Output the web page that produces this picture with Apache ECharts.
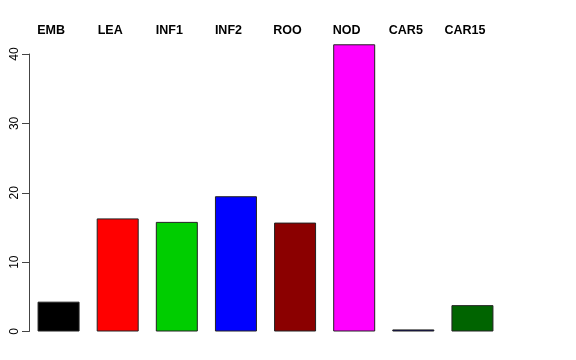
<!DOCTYPE html>
<html><head><meta charset="utf-8">
<script src="https://cdn.jsdelivr.net/npm/echarts@6/dist/echarts.min.js"></script>
<style>html,body{margin:0;padding:0;background:#fff}#c{width:576px;height:360px}</style>
</head><body><div id="c"></div>
<script>
const categories = ["EMB","LEA","INF1","INF2","ROO","NOD","CAR5","CAR15"];
const values = [4.3, 16.3, 15.8, 19.5, 15.7, 41.4, 0.3, 3.8];
const colors = ["#000000","#FF0000","#00CD00","#0000FF","#8B0000","#FF00FF","#000080","#006400"];
const yTicks = [0, 10, 20, 30, 40];

const chart = echarts.init(document.getElementById('c'), null, {renderer: 'canvas'});
chart.setOption({
  animation: false,
  backgroundColor: '#ffffff',
  grid: {left: 29, top: 54, width: 473, height: 277.5, containLabel: false},
  xAxis: {
    type: 'category', data: categories, position: 'top',
    axisLine: {show: false}, axisTick: {show: false},
    axisLabel: {
      margin: 17, fontFamily: 'Liberation Sans', fontWeight: 'bold', fontSize: 12.5,
      color: '#000', padding: [0, 15, 0, 0]
    }
  },
  yAxis: {
    type: 'value', min: yTicks[0], max: yTicks[yTicks.length - 1], interval: 10,
    splitLine: {show: false},
    axisLine: {show: true, lineStyle: {color: '#444', width: 1}},
    axisTick: {show: true, length: 7, lineStyle: {color: '#444'}},
    axisLabel: {rotate: 90, margin: 8, fontFamily: 'Liberation Sans', fontSize: 12, color: '#000'}
  },
  series: [{
    type: 'bar', clip: false, barWidth: 42,
    data: values.map((v, i) => ({value: v, itemStyle: {color: colors[i]}})),
    itemStyle: {borderColor: '#222', borderWidth: 1}
  }]
});
</script></body></html>
